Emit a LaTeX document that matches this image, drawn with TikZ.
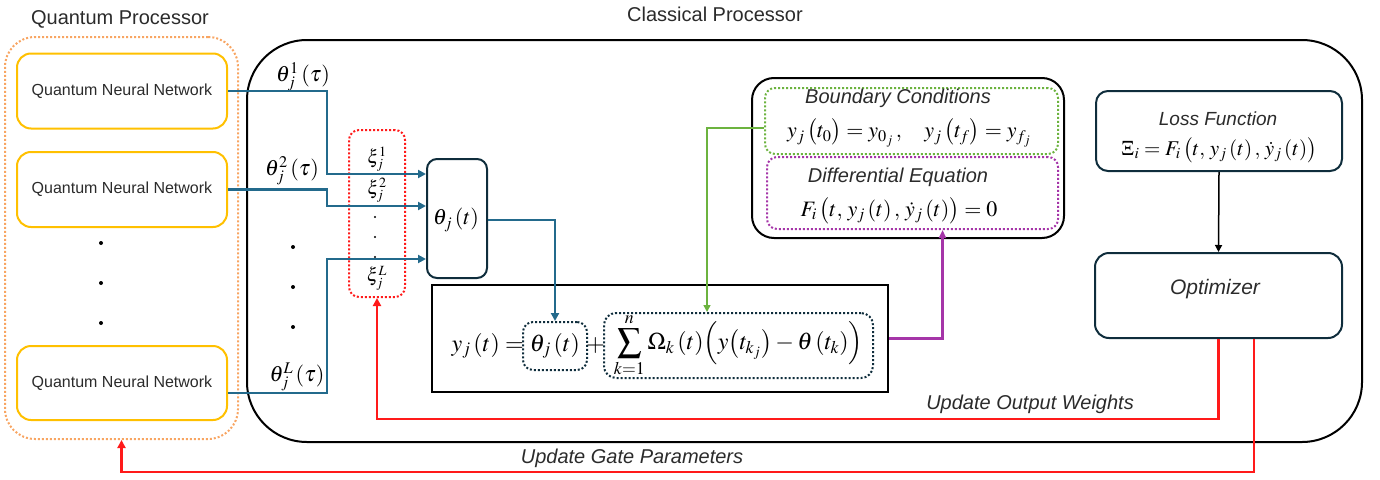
\documentclass[tikz,border=0pt]{standalone}
\usepackage{mathptmx}
\usepackage[no-math]{fontspec}
\setsansfont{Liberation Sans}
\usetikzlibrary{arrows.meta,calc}
\definecolor{qyellow}{HTML}{FFC000}
\definecolor{qorange}{HTML}{F8A562}
\definecolor{qblue}{HTML}{236A8C}
\definecolor{qdark}{HTML}{0F2D3C}
\definecolor{qgreen}{HTML}{6CB33F}
\definecolor{qpurple}{HTML}{A535A8}
\definecolor{qred}{HTML}{FF1A1A}
\definecolor{qtext}{HTML}{2B2B2B}
\begin{document}
\begin{tikzpicture}[x=1pt,y=-1pt,
  lbl/.style={font=\sffamily\fontsize{20}{24}\selectfont, text=qtext, inner sep=0pt},
  ilbl/.style={font=\sffamily\itshape\fontsize{20}{24}\selectfont, text=qtext, inner sep=0pt},
  qnn/.style={draw=qyellow, line width=2pt, rounded corners=14pt, minimum width=210pt, minimum height=75pt, font=\sffamily\fontsize{16}{18}\selectfont, text=qtext, inner sep=0pt},
  darkbox/.style={draw=qdark, line width=2pt, rounded corners=12pt, inner sep=0pt},
  dotbox/.style={draw=qdark, line width=2pt, dotted, rounded corners=10pt, inner sep=0pt},
  mth/.style={font=\fontsize{22}{24}\selectfont, inner sep=0pt, text=black},
  bline/.style={draw=qblue, line width=2.2pt, -{Triangle[length=8pt,width=8pt]}},
  rline/.style={draw=qred, line width=2.2pt, -{Triangle[length=8pt,width=8pt]}},
]
\useasboundingbox (0,0) rectangle (1380,479);

% containers
\node[draw=qorange, line width=2pt, dotted, rounded corners=30pt, minimum width=233pt, minimum height=402pt, inner sep=0pt] (qp) at (121.5,238) {};
\node[draw=black, line width=2pt, rounded corners=60pt, minimum width=1115pt, minimum height=402pt, inner sep=0pt] (cp) at (804.5,241) {};
\node[lbl] (qpl) at (120,19) {Quantum Processor};
\node[lbl] (cpl) at (715,14) {Classical Processor};

% quantum neural networks
\node[qnn] (q1) at (122,91) {Quantum Neural Network};
\node[qnn] (q2) at (122,189.5) {Quantum Neural Network};
\node[qnn, minimum height=74pt] (q3) at (122,383) {Quantum Neural Network};
\foreach \yy in {243,283,323} \fill (101,\yy) circle (2pt);
\foreach \yy in {247,287,327} \fill (293,\yy) circle (2pt);

% theta labels
\node[mth] (t1) at (303,77) {$\theta_j^1\,(\tau)$};
\node[mth] (t2) at (292,171) {$\theta_j^2\,(\tau)$};
\node[mth] (t3) at (297,377) {$\theta_j^L\,(\tau)$};

% xi box
\node[draw=qred, line width=2pt, dotted, rounded corners=10pt, minimum width=56pt, minimum height=167pt, inner sep=0pt] (xi) at (377,213.5) {};
\node[mth, font=\fontsize{19}{20}\selectfont] (x1) at (377,159) {$\xi_j^1$};
\node[mth, font=\fontsize{19}{20}\selectfont] (x2) at (377,190) {$\xi_j^2$};
\node[mth, font=\fontsize{19}{20}\selectfont] (x3) at (377,278) {$\xi_j^L$};
\foreach \yy in {217,237,257} \fill (375,\yy) circle (1.2pt);

% theta box
\node[darkbox, rounded corners=10pt, minimum width=60pt, minimum height=119pt] (th) at (457,218.5) {};
\node[mth] (thl) at (456,220) {$\theta_j\,(t)$};

% formula box
\node[draw=black, line width=2.5pt, minimum width=456pt, minimum height=107pt, inner sep=0pt] (fb) at (660,338.5) {};
\node[dotbox, minimum width=64pt, minimum height=48pt, font=\fontsize{24}{28}\selectfont] (d1) at (555,346) {$\theta_j\,(t)$};
\node[dotbox, rounded corners=12pt, minimum width=269pt, minimum height=65pt, font=\fontsize{24}{28}\selectfont] (d2) at (738.5,345.5) {$\displaystyle\sum_{k=1}^{n}\Omega_k\,(t)\Bigl(y\bigl(t_{k_j}\bigr)-\theta\,(t_k)\Bigr)$};
\node[mth, font=\fontsize{24}{28}\selectfont, anchor=east] (yl) at ([xshift=2pt]d1.west) {$y_j\,(t) =$};
\node[mth, font=\fontsize{24}{28}\selectfont] (plus) at (595.5,346) {$+$};

% boundary / differential box
\node[draw=black, line width=2pt, rounded corners=22pt, minimum width=312pt, minimum height=160pt, inner sep=0pt] (bcde) at (908,158) {};
\node[draw=qgreen, line width=2pt, dotted, rounded corners=10pt, minimum width=293pt, minimum height=66pt, inner sep=0pt] (bc) at (911.5,121) {};
\node[draw=qpurple, line width=2pt, dotted, rounded corners=10pt, minimum width=291pt, minimum height=72pt, inner sep=0pt] (de) at (912.5,193) {};
\node[ilbl] (bcl) at (898,98) {Boundary Conditions};
\node[mth, font=\fontsize{22}{24}\selectfont] (bcf) at (909,133) {$y_j\,\bigl(t_0\bigr)=y_{0_j}\,,\ \ \ y_j\,\bigl(t_f\bigr)=y_{f_j}$};
\node[ilbl] (del) at (898,177) {Differential Equation};
\node[mth, font=\fontsize{22}{24}\selectfont] (def) at (899,211) {$F_i\,\bigl(t,\,y_j\,(t)\,,\,\dot y_j\,(t)\bigr)=0$};

% loss and optimizer
\node[darkbox, minimum width=246pt, minimum height=80pt] (loss) at (1219,131) {};
\node[ilbl, font=\sffamily\itshape\fontsize{19}{22}\selectfont] (lossl) at (1218,119) {Loss Function};
\node[mth, font=\fontsize{21}{24}\selectfont] (lossf) at (1219,150) {$\Xi_i=F_i\,\bigl(t,\,y_j\,(t)\,,\,\dot y_j\,(t)\bigr)$};
\node[darkbox, rounded corners=14pt, minimum width=247pt, minimum height=85pt] (opt) at (1218.5,295.5) {};
\node[ilbl, font=\sffamily\itshape\fontsize{21}{25}\selectfont] (optl) at (1215,289) {Optimizer};

% connectors
\draw[bline] (q1.east) -- ++(99,0) |- ([yshift=44.5pt]th.west);
\draw[bline] (q2.east) -- ++(99,0) |- ([yshift=12.5pt]th.west);
\draw[bline] ([yshift=-10pt]q3.east) -- ++(99,0) |- ([yshift=-40.5pt]th.west);
\draw[bline] ([yshift=-1.5pt]th.east) -| (d1.north);
\draw[draw=qgreen, line width=1.5pt, -{Triangle[length=7pt,width=7pt]}] ([yshift=-7pt]bc.west) -| ([xshift=-31.5pt]d2.north);
\draw[draw=qpurple, line width=2.2pt, -{Triangle[length=8pt,width=7pt]}] (fb.east) -| ([xshift=30pt]de.south);
\draw[draw=black, line width=1.5pt, -{Triangle[length=7pt,width=7pt]}] (loss.south) -- (opt.north);
\draw[rline] (opt.south) -- ++(0,80) -| (xi.south);
\draw[rline] ([xshift=35.5pt]opt.south) -- ++(0,133) -| (qp.south);
\node[ilbl] (uow) at (1030,404) {Update Output Weights};
\node[ilbl] (ugp) at (632,458) {Update Gate Parameters};
\end{tikzpicture}
\end{document}
